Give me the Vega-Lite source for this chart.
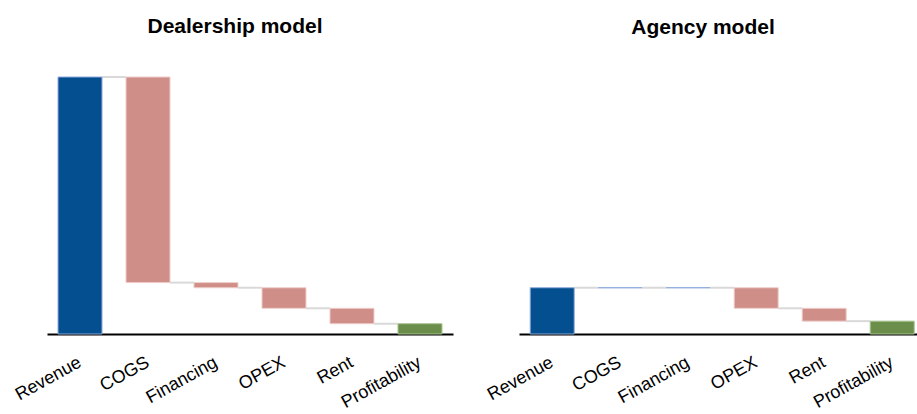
{
  "$schema": "https://vega.github.io/schema/vega-lite/v6.json",
  "padding": {"left": 12, "top": 16, "right": 0, "bottom": 0},
  "background": "white",
  "spacing": 66,
  "bounds": "flush",
  "config": {
    "view": {"stroke": null},
    "font": "Liberation Sans",
    "title": {"font": "Liberation Sans", "fontSize": 21, "fontWeight": "bold", "color": "#000000", "offset": 39, "dx": -15},
    "axisX": {
      "title": null, "domainColor": "#000000", "domainWidth": 2, "ticks": false, "grid": false,
      "labelAngle": -29, "labelFontSize": 18, "labelFont": "Liberation Sans", "labelColor": "#000000",
      "labelPadding": 27, "labelAlign": "right", "labelBaseline": "middle"
    }
  },
  "datasets": {
    "pl": [
      {"model": "Dealership model", "step": "Revenue", "order": 1, "kind": "total", "value": 100},
      {"model": "Dealership model", "step": "COGS", "order": 2, "kind": "decrease", "value": 80},
      {"model": "Dealership model", "step": "Financing", "order": 3, "kind": "decrease", "value": 2},
      {"model": "Dealership model", "step": "OPEX", "order": 4, "kind": "decrease", "value": 8},
      {"model": "Dealership model", "step": "Rent", "order": 5, "kind": "decrease", "value": 6},
      {"model": "Dealership model", "step": "Profitability", "order": 6, "kind": "result", "value": 4},
      {"model": "Agency model", "step": "Revenue", "order": 1, "kind": "total", "value": 18},
      {"model": "Agency model", "step": "COGS", "order": 2, "kind": "decrease", "value": 0},
      {"model": "Agency model", "step": "Financing", "order": 3, "kind": "decrease", "value": 0},
      {"model": "Agency model", "step": "OPEX", "order": 4, "kind": "decrease", "value": 8},
      {"model": "Agency model", "step": "Rent", "order": 5, "kind": "decrease", "value": 5},
      {"model": "Agency model", "step": "Profitability", "order": 6, "kind": "result", "value": 5}
    ]
  },
  "hconcat": [
    {
      "title": "Dealership model",
      "width": 406,
      "height": 257,
      "data": {"name": "pl"},
      "transform": [
        {"filter": "datum.model == 'Dealership model'"},
        {"calculate": "datum.kind == 'decrease' ? -datum.value : (datum.kind == 'total' ? datum.value : 0)", "as": "delta"},
        {"window": [{"op": "sum", "field": "delta", "as": "total"}, {"op": "lead", "field": "step", "as": "next"}], "sort": [{"field": "order"}], "frame": [null, 0]},
        {"calculate": "datum.kind == 'decrease' ? datum.total : 0", "as": "lo"},
        {"calculate": "datum.kind == 'decrease' ? datum.total - datum.delta : datum.total", "as": "hi"}
      ],
      "encoding": {
        "x": {"field": "step", "type": "nominal", "sort": ["Revenue", "COGS", "Financing", "OPEX", "Rent", "Profitability"],
              "scale": {"paddingInner": 0.353, "paddingOuter": 0.162}}
      },
      "layer": [
        {
          "transform": [{"filter": "datum.next != null"}],
          "mark": {"type": "rule", "color": "#d9d9d9", "strokeWidth": 2},
          "encoding": {
            "x": {"field": "step", "type": "nominal", "bandPosition": 1, "sort": ["Revenue", "COGS", "Financing", "OPEX", "Rent", "Profitability"]},
            "x2": {"field": "next", "bandPosition": 0},
            "y": {"field": "total", "type": "quantitative", "scale": {"domain": [0, 100], "nice": false, "zero": true}, "axis": null}
          }
        },
        {
          "mark": {"type": "bar", "strokeWidth": 1},
          "encoding": {
            "y": {"field": "lo", "type": "quantitative", "scale": {"domain": [0, 100], "nice": false}, "axis": null},
            "y2": {"field": "hi"},
            "fill": {"field": "kind", "type": "nominal", "legend": null,
                     "scale": {"domain": ["total", "decrease", "result"], "range": ["#034f8f", "#cf8e87", "#6b8f4b"]}},
            "stroke": {"condition": {"test": "datum.lo == datum.hi", "value": "#8faadc"},
                       "field": "kind", "type": "nominal", "legend": null,
                       "scale": {"domain": ["total", "decrease", "result"], "range": ["#8faadc", "#efcdca", "#a9c28f"]}}
          }
        }
      ]
    },
    {
      "title": "Agency model",
      "width": 398,
      "height": 257,
      "data": {"name": "pl"},
      "transform": [
        {"filter": "datum.model == 'Agency model'"},
        {"calculate": "datum.kind == 'decrease' ? -datum.value : (datum.kind == 'total' ? datum.value : 0)", "as": "delta"},
        {"window": [{"op": "sum", "field": "delta", "as": "total"}, {"op": "lead", "field": "step", "as": "next"}], "sort": [{"field": "order"}], "frame": [null, 0]},
        {"calculate": "datum.kind == 'decrease' ? datum.total : 0", "as": "lo"},
        {"calculate": "datum.kind == 'decrease' ? datum.total - datum.delta : datum.total", "as": "hi"}
      ],
      "encoding": {
        "x": {"field": "step", "type": "nominal", "sort": ["Revenue", "COGS", "Financing", "OPEX", "Rent", "Profitability"],
              "scale": {"paddingInner": 0.353, "paddingOuter": 0.103, "align": 0.8}}
      },
      "layer": [
        {
          "transform": [{"filter": "datum.next != null"}],
          "mark": {"type": "rule", "color": "#d9d9d9", "strokeWidth": 2},
          "encoding": {
            "x": {"field": "step", "type": "nominal", "bandPosition": 1, "sort": ["Revenue", "COGS", "Financing", "OPEX", "Rent", "Profitability"]},
            "x2": {"field": "next", "bandPosition": 0},
            "y": {"field": "total", "type": "quantitative", "scale": {"domain": [0, 100], "nice": false, "zero": true}, "axis": null}
          }
        },
        {
          "mark": {"type": "bar", "strokeWidth": 1},
          "encoding": {
            "y": {"field": "lo", "type": "quantitative", "scale": {"domain": [0, 100], "nice": false}, "axis": null},
            "y2": {"field": "hi"},
            "fill": {"field": "kind", "type": "nominal", "legend": null,
                     "scale": {"domain": ["total", "decrease", "result"], "range": ["#034f8f", "#cf8e87", "#6b8f4b"]}},
            "stroke": {"condition": {"test": "datum.lo == datum.hi", "value": "#8faadc"},
                       "field": "kind", "type": "nominal", "legend": null,
                       "scale": {"domain": ["total", "decrease", "result"], "range": ["#8faadc", "#efcdca", "#a9c28f"]}}
          }
        }
      ]
    }
  ]
}
